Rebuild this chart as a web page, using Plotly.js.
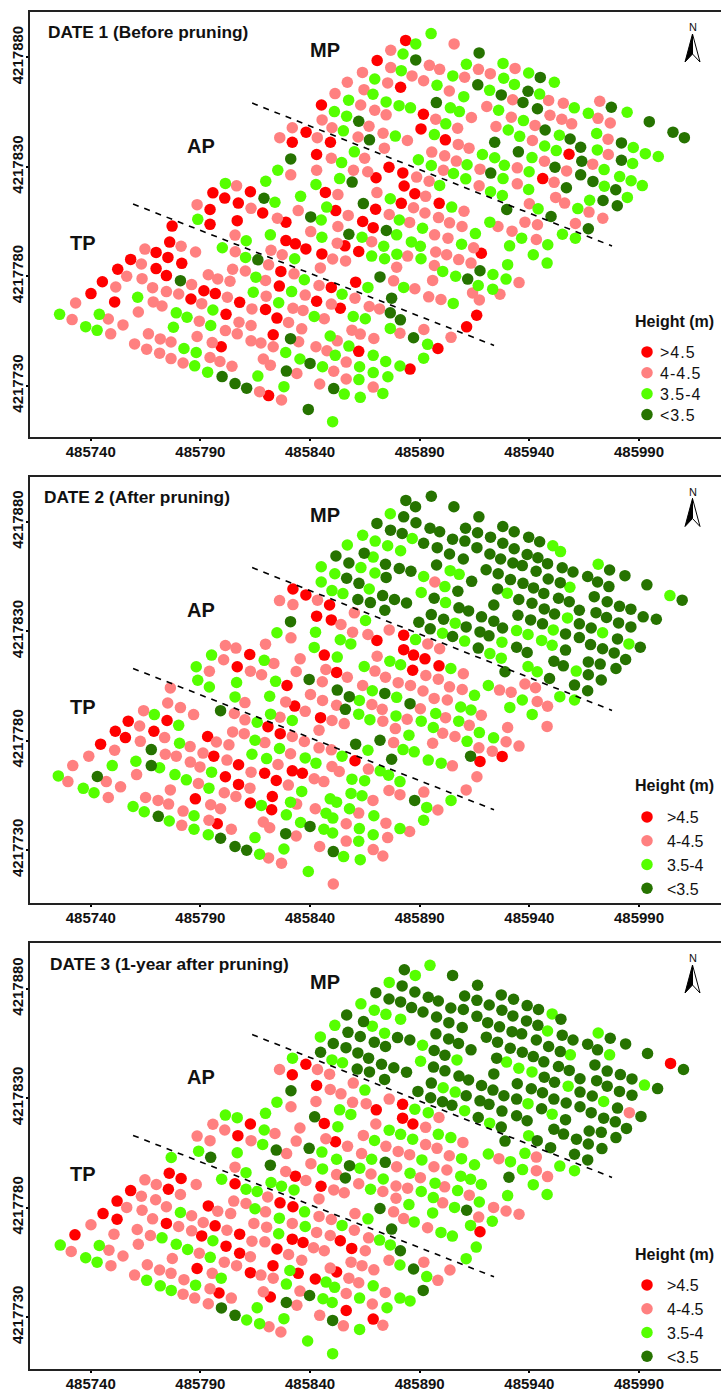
<!DOCTYPE html>
<html><head><meta charset="utf-8">
<script src="https://cdn.plot.ly/plotly-3.0.1.min.js"></script>
<style>html,body{margin:0;padding:0;background:#fff;overflow:hidden}#c{width:721px;height:1389px}</style>
</head><body><div id="c"></div>
<script>
// All tree positions: metres east of 485700 and metres north of 4217700 (UTM).
const eastBase = 485700, northBase = 4217700;
const classNames = [">4.5", "4-4.5", "3.5-4", "<3.5"];
const classColors = ["#FF0000", "#FF8080", "#55FF00", "#267300"];
const panelTitles = ["DATE 1 (Before pruning)", "DATE 2 (After pruning)", "DATE 3 (1-year after pruning)"];
const xTickValues = [485740, 485790, 485840, 485890, 485940, 485990];
const yTickValues = [4217730, 4217780, 4217830, 4217880];
const boundaryTPAP = [[59.3, 113.0], [223.9, 48.4]];
const boundaryAPMP = [[113.6, 159.1], [277.7, 93.8]];

const date1Red = [[95.7,118.1],[101.1,115.7],[112.8,118.6],[107.3,113.4],[94.4,110.5],[94.4,103.7],[106.8,105.4],[77.1,102.9],[76.0,95.6],[69.8,90.9],[75.2,88.6],[81.5,85.9],[58.2,87.7],[52.3,83.2],[69.8,83.5],[74.5,80.3],[45.3,77.5],[40.1,72.1],[50.9,68.3],[91.6,73.4],[96.8,72.1],[85.7,69.6],[107.9,68.1],[101.7,62.6],[99.5,47.8],
[118.4,108.9],[151.7,110.0],[147.0,118.3],[169.9,110.6],[181.6,113.3],[187.8,117.7],[198.9,113.3],[164.0,105.0],[168.8,102.2],[129.0,104.7],[129.0,96.3],[133.3,94.8],[138.1,92.5],[155.9,93.9],[162.2,91.3],[145.4,90.2],[218.1,90.5],[126.7,82.2],[126.0,75.5],[160.8,77.3],[149.7,74.9],[143.0,68.6],[153.8,65.4],[119.7,64.8],[124.9,60.9],[123.2,53.3],[162.2,45.7],[198.3,47.0],[216.0,62.2],[211.4,56.9],[185.6,37.6],[121.1,25.5],
[183.6,187.7],[170.6,178.5],[181.3,166.3],[145.2,158.2],[191.7,154.0],[190.6,147.3],[201.7,142.3],[138.2,145.8],[131.9,141.2],[149.3,141.2],[143.0,135.6],[176.0,129.8],[182.3,127.2],[170.1,125.0],[182.9,121.2],[258.1,135.7],[246.1,124.6]];
const date1Pink = [[106.5,121.3],[88.5,112.7],[113.1,111.0],[105.8,98.8],[105.9,91.2],[64.7,92.4],[81.2,93.7],[87.8,91.1],[63.1,85.6],[104.7,83.2],[110.5,82.4],[56.4,80.0],[63.4,78.9],[93.6,80.7],[97.9,78.8],[103.5,77.7],[51.4,75.1],[68.2,74.8],[86.0,76.2],[74.5,73.0],[80.1,71.9],[102.3,70.4],[68.5,68.3],[72.5,66.4],[90.6,67.5],[113.5,65.1],[33.1,67.8],[31.5,60.2],[61.7,63.7],[48.0,60.5],[54.7,57.8],[49.1,53.7],[89.5,59.5],[107.6,59.0],[113.1,57.5],[88.5,52.5],[101.4,55.2],[106.8,53.7],[113.1,50.5],[66.3,53.7],[71.7,51.4],[76.6,50.0],[60.0,49.1],[65.5,46.7],[71.4,44.9],[76.6,42.4],[82.1,40.4],[95.4,49.7],[94.4,42.9],[98.9,41.1],[104.4,38.9],
[152.7,117.3],[170.5,118.2],[192.7,116.5],[187.2,111.3],[134.6,110.0],[157.4,107.8],[176.1,108.2],[192.4,108.9],[198.6,106.8],[210.2,109.7],[203.6,104.4],[125.1,106.5],[185.4,104.6],[152.7,102.7],[140.3,100.4],[196.8,98.9],[202.9,97.4],[209.3,102.7],[225.7,102.7],[168.1,95.8],[152.4,95.1],[214.6,93.0],[197.3,91.1],[202.3,89.8],[207.8,87.6],[213.4,86.0],[122.2,91.9],[127.3,89.8],[184.5,89.2],[150.3,87.9],[156.2,87.0],[196.7,84.9],[144.7,83.8],[121.1,85.2],[132.7,81.1],[119.7,78.1],[179.5,84.1],[178.1,77.9],[195.9,78.1],[144.1,75.8],[187.8,74.3],[120.0,70.9],[137.8,71.4],[214.1,72.4],[217.2,69.2],[194.1,70.6],[199.7,69.4],[160.5,70.0],[149.7,67.3],[167.0,66.2],[171.7,65.1],[132.2,65.4],[136.8,64.4],[146.5,60.6],[130.2,58.9],[136.2,56.0],[159.1,55.4],[162.9,53.6],[169.1,51.6],[181.0,54.0],[191.9,55.7],[204.3,52.1],[117.6,49.5],[123.2,47.8],[134.8,50.1],[152.4,50.5],[142.7,47.8],[147.7,46.0],[118.7,42.2],[121.9,39.4],[156.5,40.8],[150.8,36.6],[134.0,35.6],[156.5,33.1],[144.4,30.8],[168.8,29.4],[117.0,27.3],[127.0,23.5],[226.6,71.8],
[176.8,183.2],[205.7,186.1],[176.8,175.3],[194.4,176.3],[199.1,174.5],[163.9,173.1],[186.5,171.5],[191.8,169.3],[175.4,168.3],[210.5,170.9],[216.8,174.5],[222.2,172.5],[157.0,168.6],[164.6,165.2],[203.5,164.6],[151.4,163.4],[163.1,158.2],[169.5,155.8],[174.7,153.7],[220.6,157.5],[197.3,151.7],[213.6,152.5],[145.5,151.4],[131.9,147.8],[150.0,147.8],[207.3,147.6],[224.8,148.4],[166.9,148.5],[126.2,143.3],[143.3,143.3],[161.9,143.6],[173.3,145.3],[184.4,142.0],[207.6,140.2],[212.5,138.5],[173.9,138.5],[195.5,136.7],[201.4,135.0],[206.7,132.6],[149.7,133.9],[164.9,133.9],[217.5,128.9],[143.0,128.4],[131.2,126.3],[159.8,128.4],[166.3,127.7],[200.8,128.4],[188.6,125.3],[194.3,123.4],[217.1,121.3],
[233.5,174.9],[232.4,160.6],[248.8,160.3],[255.5,159.0],[272.1,159.9],[231.8,152.6],[249.4,153.5],[254.8,151.7],[271.3,152.1],[259.3,149.6],[276.9,150.0],[242.6,148.9],[241.4,142.0],[275.9,142.6],[276.0,135.6],[246.9,132.5],[268.9,131.2],[234.5,129.5],[257.0,128.1],[251.3,122.9],[234.5,122.2],[252.0,116.0],[256.1,113.4],[240.0,113.1],[267.2,109.3],[273.5,106.5],[261.0,104.1],[238.0,104.7],[243.7,103.5],[232.1,100.6],[243.2,96.8],[235.3,77.1]];
const date1Green = [[101.4,122.4],[88.8,106.0],[110.9,96.2],[100.0,93.0],[110.6,88.6],[61.4,70.4],[25.8,62.6],[43.9,62.6],[37.7,57.0],[42.9,55.3],[79.0,63.3],[83.9,61.3],[95.7,64.6],[77.7,56.7],[94.7,57.5],[82.5,47.0],[88.1,45.2],[87.4,39.1],[93.3,36.2],
[135.7,116.5],[124.0,113.8],[147.6,111.6],[145.1,105.7],[176.6,115.4],[204.6,111.6],[180.7,105.7],[222.0,104.7],[191.3,101.9],[179.5,98.9],[215.4,99.5],[121.9,98.9],[145.4,97.8],[163.7,97.8],[209.1,94.6],[186.2,95.7],[190.3,93.7],[173.6,93.7],[179.6,90.1],[168.1,89.2],[174.0,88.0],[190.6,88.0],[133.0,88.0],[200.5,82.2],[206.4,80.0],[223.4,80.8],[216.7,75.8],[223.3,74.1],[115.3,79.6],[137.4,78.4],[166.4,74.9],[182.7,74.9],[114.1,72.7],[131.6,73.0],[154.6,71.8],[125.7,67.9],[205.3,67.6],[159.7,61.6],[165.2,60.6],[141.9,61.6],[176.6,56.2],[149.2,52.7],[157.7,48.1],[193.6,48.9],[128.9,45.2],[151.5,43.9],[135.4,42.2],[168.8,43.9],[174.5,41.1],[181.0,39.0],[191.8,42.6],[145.7,38.7],[162.6,38.7],[168.8,36.0],[175.5,34.1],[116.2,34.4],[162.3,32.8],[128.1,29.6],[155.6,26.2],[162.9,24.7],[173.2,26.5],[150.3,13.6],[222.3,118.6],
[195.2,190.8],[188.2,186.1],[182.4,181.5],[211.3,176.8],[181.6,173.9],[169.5,170.1],[205.1,171.5],[197.9,167.2],[221.9,164.9],[168.7,163.1],[210.1,162.0],[157.6,160.4],[174.7,159.6],[180.6,157.9],[185.8,156.9],[204.0,156.9],[208.1,155.2],[151.1,155.2],[156.7,153.1],[201.9,149.6],[226.0,155.8],[155.2,146.4],[196.7,144.7],[178.9,144.0],[218.6,135.6],[224.2,134.1],[160.2,136.8],[189.4,133.2],[195.3,130.6],[154.4,131.9],[125.3,128.4],[211.6,130.9],[205.4,126.9],[211.0,124.5],[153.5,124.6],[119.8,123.4],[142.7,121.9],[199.1,121.5],
[228.0,177.2],[239.7,172.8],[228.3,170.4],[233.2,167.6],[251.4,168.6],[244.7,163.2],[260.5,156.9],[266.9,154.4],[284.6,154.9],[237.3,151.1],[230.4,146.8],[235.6,143.9],[253.7,144.4],[270.7,145.2],[247.0,139.5],[252.3,137.4],[271.0,137.7],[287.4,138.8],[292.9,136.0],[298.8,134.7],[241.2,134.2],[228.6,130.7],[287.1,131.5],[239.9,127.7],[228.0,124.6],[274.1,128.7],[281.2,125.5],[286.4,123.6],[291.5,121.4],[274.2,121.1],[239.7,119.6],[227.7,116.9],[267.5,114.7],[284.7,116.0],[262.1,110.9],[244.0,110.8],[255.1,99.2],[261.0,97.4],[236.5,97.4],[248.4,94.4],[231.0,93.9],[241.8,89.8],[248.1,86.0],[230.1,85.3],[229.4,78.7]];
const date1Dark = [[80.9,78.0],[99.9,34.2],[105.8,31.0],[111.1,28.9],
[119.0,115.6],[164.3,113.2],[140.3,107.1],[157.7,99.2],[174.8,100.9],[116.2,87.5],[171.9,79.7],[177.2,70.0],[176.6,63.3],[181.2,60.1],[187.2,51.9],[131.1,51.5],[140.0,40.2],[129.2,36.7],[150.8,28.7],[139.2,19.2],[211.9,78.7],[217.5,82.5],
[217.1,182.0],[188.2,178.8],[216.5,167.4],[197.6,159.3],[162.2,150.8],[167.1,142.3],[224.2,141.2],[131.2,133.6],[222.4,127.1],[159.2,123.0],
[227.2,162.8],[239.4,164.5],[245.0,170.8],[237.1,159.4],[243.7,156.5],[277.4,157.2],[294.7,150.6],[247.2,146.8],[305.5,145.8],[310.7,143.3],[258.6,142.7],[282.0,140.9],[263.4,138.9],[235.0,136.8],[263.9,132.5],[282.0,133.0],[251.7,129.8],[263.4,126.3],[269.0,123.3],[256.9,120.4],[279.4,119.5],[273.6,114.6],[280.1,112.2],[229.7,110.5],[249.9,107.3],[266.9,101.7]];

const date2Red = [[112.5,119.4],[106.8,113.8],[57.1,88.9],[74.8,89.2],[51.2,84.3],[55.8,81.4],[68.8,84.3],[44.5,78.4],[93.3,81.9],[96.1,72.9],[107.4,69.0],[101.4,63.5],[107.4,60.0],[87.7,53.4],[112.8,51.5],[97.7,42.0],
[133.0,95.8],[144.8,90.5],[120.8,86.4],[126.4,83.2],[160.5,70.8],[217.5,70.5],[119.3,65.1],[124.6,61.8],[131.9,66.2],[136.5,65.1],[122.8,54.5],[122.5,48.4],[227.6,72.8],
[132.2,149.3],[138.1,146.6],[148.9,142.0],[143.0,136.9],[149.7,135.2],[170.5,125.8],[182.7,128.2],[182.7,121.6],[187.2,119.1],[192.4,117.4],[198.8,114.2],[186.8,112.2],[146.5,119.1],[152.1,111.2],[129.5,105.2]];
const date2Pink = [[101.4,123.5],[106.2,122.3],[100.6,117.0],[94.1,111.7],[112.8,111.7],[76.3,104.1],[110.3,97.4],[75.1,97.2],[80.9,95.1],[86.9,91.9],[64.1,93.7],[105.5,92.4],[110.3,89.5],[62.3,86.7],[104.7,84.0],[110.0,83.2],[73.7,81.4],[62.6,79.7],[97.3,79.4],[103.0,78.1],[50.9,75.6],[85.3,77.3],[39.1,72.9],[74.0,73.8],[79.0,72.9],[91.2,74.3],[102.1,71.1],[31.8,68.6],[85.4,70.2],[89.8,68.0],[113.1,65.6],[60.9,64.5],[29.6,61.3],[47.1,61.3],[89.1,60.4],[53.6,58.9],[112.6,58.3],[76.3,57.5],[100.9,56.2],[106.2,54.5],[48.0,54.0],[65.0,54.0],[70.7,52.7],[75.5,51.0],[94.7,50.7],[99.2,48.9],[82.1,47.8],[93.9,43.6],[104.1,39.5],[81.5,41.3],
[119.7,124.1],[117.9,110.1],[128.9,97.7],[152.1,96.2],[137.8,93.4],[126.3,90.7],[150.0,89.2],[155.6,87.8],[168.2,96.5],[172.9,94.3],[190.3,94.6],[202.6,98.6],[184.3,89.8],[173.2,88.9],[178.9,85.5],[201.8,90.5],[218.1,91.6],[212.6,87.0],[144.1,84.8],[131.9,81.9],[200.5,83.4],[206.1,81.9],[137.4,79.6],[119.4,79.1],[178.1,79.1],[195.9,78.8],[144.1,76.7],[149.7,75.8],[217.0,76.7],[223.1,75.2],[131.1,74.0],[204.9,68.5],[125.4,69.1],[150.0,68.2],[153.3,65.9],[166.6,67.0],[141.9,62.6],[146.3,61.3],[130.1,59.7],[216.1,63.5],[211.2,57.5],[176.0,57.2],[181.0,55.3],[191.9,56.5],[168.7,52.7],[133.9,51.0],[142.4,48.9],[198.3,48.3],[162.2,46.9],[118.7,42.8],[121.6,40.2],[156.5,42.0],[174.6,42.3],[133.7,36.4],[185.4,38.5],[175.4,35.7],[156.5,34.1],[144.4,31.6],[168.8,30.2],[173.2,27.3],[121.1,26.4],[127.0,24.0],[150.6,14.5],[145.7,98.4],
[196.9,152.5],[126.1,144.0],[132.2,142.2],[143.4,144.2],[160.2,138.4],[154.1,133.1],[159.4,129.6],[176.1,130.6],[166.4,128.5],[131.3,127.0],[193.7,124.2],[199.1,122.0],[170.6,118.6],[123.5,115.3],[135.5,117.4],[133.7,111.6],[147.2,112.5],[157.0,109.0],[169.6,111.8],[174.4,109.0],[192.8,109.8],[198.5,108.1],[180.2,106.5],[145.6,106.9],[164.0,105.2],[185.8,105.2],[203.6,104.6],[209.9,110.6],[140.2,101.1],[209.4,103.4],[191.5,102.7],[226.4,103.1],[231.7,102.1],[238.0,105.9],[242.8,104.2],[243.6,97.9],[248.3,95.7],[196.6,99.3],
[229.4,79.5],[235.3,77.5],[230.1,86.0],[248.1,86.5]];
const date2Green = [[95.1,119.1],[88.1,113.8],[88.8,107.6],[94.1,104.5],[106.5,106.6],[105.8,100.0],[69.0,91.9],[80.1,87.0],[80.5,78.8],[60.6,70.6],[49.8,68.6],[71.4,67.6],[25.2,63.9],[78.4,64.5],[83.6,62.1],[95.1,65.6],[93.9,58.3],[36.6,58.2],[41.5,56.2],[59.3,49.9],[64.4,47.5],[87.1,45.7],[75.8,43.3],[87.1,39.5],[93.6,37.0],[113.5,73.8],
[119.1,116.7],[121.6,100.3],[122.0,92.1],[115.9,88.4],[131.9,89.2],[162.2,92.1],[167.3,89.6],[179.2,91.3],[190.7,88.9],[197.3,92.4],[208.7,95.4],[213.4,94.0],[207.8,88.9],[196.2,86.0],[217.2,83.7],[185.1,82.5],[223.7,81.3],[114.9,80.2],[211.6,79.7],[166.4,75.6],[126.1,76.4],[182.4,75.9],[187.5,74.9],[154.6,72.9],[120.2,71.8],[137.8,72.1],[142.7,69.7],[193.9,71.1],[199.8,69.7],[172.0,66.2],[175.8,64.2],[159.1,62.4],[164.9,61.7],[181.0,61.3],[136.2,56.8],[158.7,55.9],[163.7,54.8],[149.2,53.4],[152.1,51.9],[117.8,50.4],[131.1,51.9],[204.3,52.7],[193.2,49.5],[158.0,48.9],[147.3,46.8],[150.4,44.6],[129.2,46.1],[169.1,45.7],[191.8,43.6],[135.7,42.6],[146.3,39.5],[150.3,37.8],[162.5,39.8],[181.0,39.8],[168.8,37.0],[114.9,35.7],[128.1,30.5],[162.2,34.0],[117.0,28.1],[155.3,27.0],[162.9,25.6],[139.2,20.2],[162.5,98.4],
[176.6,183.7],[164.0,173.9],[186.6,172.4],[169.7,171.2],[157.0,169.4],[175.4,169.1],[181.3,166.8],[250.7,169.1],[254.2,166.4],[168.8,163.9],[145.1,159.5],[163.2,159.1],[151.3,156.3],[169.6,156.6],[271.4,160.6],[203.9,157.7],[208.0,156.0],[191.8,155.0],[145.1,152.5],[167.0,149.3],[150.0,148.6],[258.5,150.1],[155.0,147.2],[201.5,150.4],[190.7,147.7],[229.9,147.4],[201.8,143.1],[257.4,136.1],[165.3,134.9],[206.2,133.7],[234.2,130.3],[239.4,128.5],[250.9,130.6],[142.5,129.6],[153.8,126.1],[158.6,124.2],[273.4,129.3],[200.4,129.1],[124.9,129.3],[188.1,126.2],[210.5,125.5],[227.5,125.0],[245.6,125.8],[250.4,123.6],[285.4,124.2],[141.9,122.6],[222.0,119.8],[227.2,117.7],[152.4,118.2],[176.4,116.3],[181.3,114.7],[164.7,113.9],[204.2,113.0],[239.4,113.9],[243.6,111.5],[261.4,111.8],[124.3,107.1],[221.3,105.2],[168.4,102.8],[179.5,99.8],[253.9,100.1],[260.6,98.6],[215.0,100.7],[304.1,146.3],[231.1,95.2],[236.8,98.6],[241.3,92.0]];
const date2Dark = [[99.2,93.7],[67.6,75.9],[67.6,68.6],[43.0,63.6],[70.8,45.4],[99.2,35.4],[105.8,31.6],[111.1,29.9],
[160.8,78.4],[171.9,80.2],[177.2,71.5],[156.1,94.3],[213.2,72.9],[187.7,52.7],[140.0,40.8],[128.9,37.5],[150.6,29.3],[185.6,96.9],
[195.3,191.7],[183.7,189.8],[188.1,186.9],[205.6,186.9],[182.7,182.3],[217.0,182.3],[170.5,179.3],[188.3,179.6],[227.9,177.9],[194.7,177.1],[199.1,175.5],[210.9,177.1],[233.1,175.5],[176.7,176.2],[182.0,174.7],[216.4,175.0],[222.3,173.0],[239.7,173.0],[191.8,170.2],[244.7,170.9],[205.0,172.1],[210.6,171.2],[227.9,170.2],[198.0,168.2],[216.1,168.2],[233.1,167.7],[164.7,165.7],[151.8,164.4],[203.6,165.3],[222.0,165.3],[239.0,165.1],[243.9,163.6],[209.9,163.0],[226.9,163.0],[157.7,161.2],[232.5,161.2],[236.8,160.0],[248.3,160.9],[174.4,160.6],[180.7,158.7],[186.0,157.4],[197.7,160.3],[255.0,159.0],[259.9,157.1],[220.3,158.1],[266.6,155.0],[276.6,158.0],[283.6,155.4],[243.1,157.4],[225.8,156.3],[174.7,154.6],[156.7,154.2],[231.4,153.6],[248.6,153.9],[254.1,152.2],[271.1,152.5],[213.7,152.8],[162.3,151.9],[237.1,151.9],[276.3,150.4],[293.6,151.2],[241.9,149.8],[225.5,149.3],[207.4,148.3],[246.6,147.3],[269.6,145.8],[173.1,146.3],[178.5,144.5],[161.8,144.5],[167.5,143.1],[184.0,142.9],[196.6,145.1],[235.2,144.5],[253.3,145.1],[258.2,143.5],[275.5,143.5],[241.2,142.8],[281.1,141.4],[223.8,142.0],[246.8,140.2],[286.3,140.1],[309.7,144.2],[207.9,140.7],[212.3,139.3],[262.8,139.6],[270.4,138.5],[174.1,139.6],[251.5,137.9],[234.8,137.3],[195.3,137.6],[275.2,136.3],[291.9,136.6],[297.9,135.5],[218.2,136.6],[200.9,135.5],[240.6,135.2],[189.6,134.1],[223.8,134.6],[262.8,133.4],[280.7,133.8],[246.0,133.4],[211.2,132.0],[268.2,131.5],[286.3,132.0],[227.8,131.5],[194.8,131.1],[217.5,129.7],[256.5,128.8],[221.6,127.9],[205.0,127.6],[262.8,127.1],[280.2,126.5],[131.1,134.4],[267.9,123.9],[290.6,122.7],[273.4,122.0],[234.2,122.7],[216.7,122.3],[256.5,121.4],[239.0,120.3],[278.7,120.1],[283.9,117.1],[266.9,116.0],[251.2,116.3],[255.5,114.2],[272.3,115.0],[279.5,113.0],[228.9,111.5],[266.9,110.1],[272.8,107.7],[249.2,108.4],[260.6,105.4],[266.6,102.8],[139.6,108.0],[152.4,103.1],[174.1,101.6],[157.9,100.1]];

const date3Red = [[112.8,118.2],[107.1,112.9],[75.8,95.7],[81.2,93.3],[58.2,87.8],[75.4,88.4],[52.0,83.0],[45.6,77.3],[52.0,74.7],[93.6,80.8],[74.5,72.8],[32.8,67.6],[96.7,71.7],[90.6,67.1],[107.9,67.9],[101.7,62.4],[107.9,59.2],[88.5,52.2],[112.8,50.3],[98.5,41.0],[105.8,90.9],
[133.3,94.4],[145.0,89.8],[126.3,82.2],[132.2,80.4],[217.5,69.0],[131.9,65.6],[136.8,64.1],[153.8,64.9],[159.0,61.4],[124.9,61.1],[123.1,53.5],[134.6,50.0],[152.1,50.6],[142.4,47.4],[121.9,39.2],[156.5,33.0],[168.8,29.1],
[138.1,145.5],[131.9,140.7],[143.0,135.8],[170.2,124.7],[182.2,127.2],[182.2,120.9],[186.9,118.2],[146.5,118.5],[151.6,110.1],[304.4,145.9]];
const date3Pink = [[95.7,118.1],[101.1,115.5],[88.5,112.7],[94.4,110.6],[113.1,110.6],[105.8,98.5],[64.7,92.7],[69.9,90.6],[88.1,90.6],[63.1,85.2],[80.9,86.0],[69.6,83.6],[105.2,83.0],[110.8,81.9],[56.4,80.1],[63.4,78.8],[74.5,80.4],[97.9,78.4],[103.8,77.3],[86.0,76.3],[68.2,74.9],[40.1,72.2],[91.3,73.2],[80.1,71.4],[61.2,70.0],[102.1,69.7],[50.6,67.9],[86.0,69.4],[67.2,67.3],[61.7,63.3],[113.5,64.7],[48.3,60.6],[31.1,60.0],[54.7,57.9],[89.5,59.2],[112.8,57.6],[77.2,56.8],[100.9,55.1],[106.5,53.5],[49.2,53.5],[65.8,53.9],[71.4,51.5],[76.6,50.0],[95.4,50.0],[60.0,49.2],[82.5,47.1],[94.4,43.0],[104.1,38.7],[82.1,40.5],[87.4,38.7],[93.6,36.1],
[128.9,96.5],[152.1,95.1],[138.1,92.4],[162.2,90.9],[167.8,95.4],[150.8,88.1],[155.6,86.8],[173.2,87.4],[184.5,88.9],[179.2,89.9],[190.3,93.7],[202.4,97.2],[201.4,89.5],[212.6,85.7],[144.1,84.0],[179.2,84.3],[120.7,84.9],[200.5,82.2],[178.1,78.1],[223.7,80.1],[160.5,77.3],[144.1,76.0],[149.7,74.6],[119.7,78.1],[216.9,75.7],[182.7,75.0],[131.9,72.8],[193.6,70.8],[160.2,69.7],[114.4,72.8],[120.2,71.1],[143.0,68.7],[149.2,67.3],[166.7,66.2],[119.4,64.4],[141.6,61.7],[146.5,60.3],[165.2,60.3],[130.2,58.6],[136.2,56.0],[176.0,56.0],[191.9,55.1],[203.8,51.5],[158.7,55.1],[163.7,53.5],[169.1,51.6],[117.6,49.2],[123.2,47.8],[149.2,52.4],[157.7,47.8],[162.2,45.7],[198.3,46.8],[118.7,41.6],[135.4,41.9],[156.5,40.8],[174.3,41.3],[134.0,35.4],[168.4,36.0],[144.4,30.8],[121.3,25.6],[126.7,23.2],[155.2,26.0],[173.2,26.3],
[126.1,143.1],[143.4,143.1],[148.9,141.0],[159.7,136.9],[149.2,134.0],[154.1,132.0],[142.7,128.5],[159.4,128.1],[176.1,129.6],[165.6,127.5],[131.3,126.1],[198.8,121.2],[135.4,116.4],[192.7,116.7],[170.0,118.2],[124.0,113.9],[147.2,111.5],[133.7,110.4],[164.3,113.0],[157.1,108.0],[174.6,108.0],[192.7,108.8],[197.9,107.1],[180.2,105.7],[163.5,104.7],[185.4,104.2],[209.7,109.8],[203.5,103.7],[129.3,104.7],[140.4,100.1],[179.5,98.7],[196.5,98.7],[226.1,102.4],[243.2,103.1],[243.2,96.9],[248.3,94.2],[285.6,123.4],
[235.3,77.0],[229.4,78.5]];
const date3Green = [[101.4,122.3],[106.8,121.1],[89.2,105.8],[106.8,105.1],[110.8,96.0],[76.7,102.9],[99.7,93.0],[110.8,88.4],[80.9,77.8],[72.5,66.2],[26.1,62.9],[43.9,62.7],[79.0,63.3],[95.7,64.9],[84.2,60.9],[37.7,57.1],[42.9,55.1],[94.5,57.3],[99.5,47.8],[65.5,46.8],[87.8,44.6],[71.7,44.3],[76.7,42.2],[111.1,28.7],
[119.7,123.1],[119.1,115.5],[118.4,108.9],[127.0,89.8],[122.2,91.5],[132.7,88.1],[115.9,87.4],[167.6,88.4],[173.4,93.1],[185.6,95.7],[197.0,91.2],[208.7,94.4],[213.2,93.0],[218.1,90.6],[190.7,87.4],[207.3,87.8],[196.2,84.6],[185.1,81.4],[114.9,79.5],[217.2,82.6],[205.9,80.1],[195.9,77.6],[223.1,73.8],[166.4,74.9],[187.5,73.5],[137.5,78.1],[154.6,71.9],[126.0,75.2],[137.8,71.4],[213.2,71.9],[199.7,68.7],[204.9,67.0],[125.7,68.1],[171.7,65.2],[176.6,63.0],[215.8,62.0],[211.2,56.7],[181.0,53.8],[130.8,51.3],[193.2,48.5],[147.3,46.0],[151.2,43.6],[129.2,45.1],[168.8,44.3],[145.9,38.4],[150.1,36.7],[162.6,38.7],[181.0,38.7],[185.6,37.4],[175.1,34.3],[115.9,34.3],[128.1,29.3],[162.6,24.4],[117.0,27.0],[138.9,19.1],[150.3,13.3],
[194.7,190.7],[188.0,186.1],[176.1,182.9],[163.2,173.1],[169.3,170.2],[174.6,168.3],[181.3,166.1],[250.4,168.5],[151.3,163.3],[168.4,162.9],[174.0,159.7],[248.3,160.7],[144.7,158.0],[271.4,159.8],[191.3,154.2],[276.6,149.8],[258.7,149.8],[207.0,147.5],[150.0,147.5],[154.8,146.2],[190.4,146.9],[229.6,146.5],[235.2,143.7],[241.2,142.0],[132.0,148.3],[257.7,135.5],[292.5,136.0],[200.7,134.8],[206.2,132.8],[165.0,133.7],[273.9,128.5],[239.4,127.5],[124.9,128.2],[187.8,125.0],[193.9,123.4],[153.5,124.7],[158.6,122.6],[210.5,124.3],[250.4,122.7],[221.9,118.6],[152.7,117.0],[176.1,115.4],[181.3,113.5],[198.5,113.5],[186.8,111.3],[169.4,110.7],[204.2,112.0],[239.7,112.9],[145.4,105.4],[221.3,104.5],[238.0,104.8],[152.1,102.1],[191.0,101.8],[209.1,102.4],[168.1,102.1],[231.4,101.0],[215.0,99.6],[253.9,99.0],[260.6,96.9],[162.7,98.0],[145.7,97.7],[236.9,97.4],[241.8,90.5],
[230.1,85.5],[248.1,86.0]];
const date3Dark = [[94.7,103.0],[99.6,34.2],[105.8,30.8],
[121.9,99.4],[156.1,93.6],[171.9,79.6],[177.2,70.2],[181.2,60.3],[187.2,52.0],[211.4,78.8],[139.8,39.9],[129.2,36.7],[150.3,28.5],[191.6,42.2],
[183.0,188.7],[205.0,186.1],[216.4,181.6],[182.0,181.3],[170.0,178.2],[187.8,178.5],[227.2,177.2],[210.5,176.7],[232.8,175.2],[193.9,176.1],[198.5,174.4],[176.0,175.3],[181.3,174.0],[216.1,174.7],[221.7,172.6],[239.0,172.3],[186.3,171.4],[191.5,169.4],[244.2,170.5],[204.2,171.2],[209.9,170.5],[227.5,170.2],[197.7,167.1],[216.1,167.4],[232.5,167.6],[254.4,166.1],[156.7,168.0],[164.4,165.0],[221.0,164.5],[203.3,164.5],[238.7,165.3],[243.9,163.3],[209.4,162.3],[226.4,162.6],[157.3,160.1],[232.1,160.4],[236.5,159.4],[197.4,159.4],[162.9,158.2],[179.9,157.7],[185.5,156.6],[203.2,157.1],[255.0,158.8],[259.9,156.6],[220.4,157.9],[276.9,157.4],[283.9,154.8],[266.6,154.7],[243.2,156.6],[169.3,155.6],[150.6,155.0],[207.7,155.0],[225.5,155.6],[174.4,153.6],[156.4,153.1],[248.8,153.6],[271.1,152.1],[254.1,151.3],[231.3,152.8],[213.4,152.1],[196.6,151.8],[161.8,150.7],[144.8,151.0],[236.8,151.0],[201.5,149.6],[293.9,150.4],[166.7,148.3],[241.8,149.0],[225.1,148.3],[246.6,146.6],[269.9,145.2],[172.6,145.5],[253.3,144.5],[161.5,143.3],[167.1,142.0],[178.2,143.9],[184.0,141.9],[196.3,144.2],[201.5,142.5],[275.5,142.4],[258.2,142.7],[310.3,143.1],[281.5,140.8],[223.8,141.1],[246.8,139.6],[174.0,138.6],[286.8,138.8],[207.9,140.1],[263.1,138.9],[212.3,138.3],[251.5,137.3],[234.5,136.6],[270.7,138.0],[195.3,136.9],[218.2,135.8],[275.5,135.5],[240.9,134.3],[298.5,134.4],[189.2,133.1],[223.4,133.7],[281.1,133.1],[211.2,131.1],[263.1,132.8],[246.0,132.5],[228.4,131.1],[268.7,131.0],[286.8,131.4],[195.0,130.2],[234.2,129.6],[251.2,129.6],[131.3,133.4],[200.4,128.4],[217.5,128.8],[221.6,127.2],[204.7,126.8],[256.8,127.8],[263.1,126.1],[280.2,125.5],[142.1,121.5],[227.5,124.1],[234.2,122.0],[245.6,125.2],[268.2,123.4],[290.9,121.7],[273.9,120.9],[216.7,121.2],[239.0,119.7],[256.5,120.2],[279.2,119.2],[227.2,116.8],[284.3,116.2],[251.2,115.8],[267.3,115.0],[272.8,114.4],[255.6,113.6],[279.5,112.0],[261.5,111.3],[228.9,110.4],[243.6,110.6],[266.9,109.1],[249.7,107.4],[273.1,107.0],[124.6,106.3],[139.6,107.1],[260.6,104.4],[266.6,101.8],[174.3,100.7],[158.0,99.2],[230.7,93.9]];

const panelData = [
  [date1Red, date1Pink, date1Green, date1Dark],
  [date2Red, date2Pink, date2Green, date2Dark],
  [date3Red, date3Pink, date3Green, date3Dark]
];

// Layout geometry of the three map frames, in page pixels
const W = 721, H = 1389;
const frames = [
  {top: 11.5, bottom: 437, yr: [4217706.6, 4217900.9], titleX: 46, titleY: 32, legendTitleY: 321, legendTop: 335, arrowTop: 34},
  {top: 477, bottom: 903, yr: [4217705.8, 4217900.5], titleX: 42, titleY: 497, legendTitleY: 785, legendTop: 800, arrowTop: 498.5},
  {top: 943, bottom: 1369, yr: [4217706.3, 4217900.9], titleX: 48, titleY: 964, legendTitleY: 1254, legendTop: 1268, arrowTop: 965}
];
const xRange = [485712.3, 486027.4];
const px = x => x / W, py = y => 1 - y / H;
const tickFont = {family: "Liberation Sans, Arial, sans-serif", size: 15, color: "#111", weight: 700};
const boldFamily = "Liberation Sans, Arial, sans-serif";

const traces = [], annotations = [], shapes = [];
const layout = {
  width: W, height: H, margin: {l: 0, r: 0, t: 0, b: 0}, paper_bgcolor: "#fff", plot_bgcolor: "#fff",
  hovermode: false, showlegend: true, annotations, shapes
};

frames.forEach((f, p) => {
  const sfx = p === 0 ? "" : String(p + 1);
  const xa = "x" + sfx, ya = "y" + sfx, lg = "legend" + sfx;
  layout["xaxis" + sfx] = {
    domain: [30 / W, 1], range: xRange, anchor: ya, tickmode: "array", tickvals: xTickValues,
    ticktext: xTickValues.map(String), ticks: "outside", ticklen: 2, tickwidth: 2, tickcolor: "#000",
    showgrid: false, zeroline: false, showline: true, linecolor: "#222", linewidth: 2, mirror: true,
    tickfont: tickFont, ticklabelstandoff: -2
  };
  layout["yaxis" + sfx] = {
    domain: [py(f.bottom), py(f.top)], range: f.yr, anchor: xa, tickmode: "array", tickvals: yTickValues,
    ticktext: yTickValues.map(String), ticks: "outside", ticklen: 2, tickwidth: 2, tickcolor: "#000",
    tickangle: -90, showgrid: false, zeroline: false, showline: true, linecolor: "#222", linewidth: 2,
    tickfont: tickFont, ticklabelstandoff: -3
  };
  layout[lg] = {
    x: 627 / W, y: py(f.legendTop), xanchor: "left", yanchor: "top", bgcolor: "rgba(0,0,0,0)",
    font: {family: boldFamily, size: 16, color: "#111"}, itemwidth: 30, itemclick: false, itemdoubleclick: false
  };
  panelData[p].forEach((pts, c) => {
    traces.push({
      type: "scatter", mode: "markers", xaxis: xa, yaxis: ya, legend: lg, name: classNames[c],
      x: pts.map(d => eastBase + d[0]), y: pts.map(d => northBase + d[1]),
      marker: {size: 11.5, color: classColors[c], line: {width: 0}}, cliponaxis: false
    });
  });
  [boundaryTPAP, boundaryAPMP].forEach(b => {
    traces.push({
      type: "scatter", mode: "lines", xaxis: xa, yaxis: ya, showlegend: false,
      x: b.map(d => eastBase + d[0]), y: b.map(d => northBase + d[1]),
      line: {color: "#000", width: 1.6, dash: "6px,6px"}
    });
  });
  // Text
  annotations.push({xref: "paper", yref: "paper", x: px(f.titleX), y: py(f.titleY), xanchor: "left", yanchor: "middle", showarrow: false,
    text: "<b>" + panelTitles[p] + "</b>", font: {family: boldFamily, size: 17.3, color: "#111"}});
  [["MP", 146.8, 183.3], ["AP", 90.2, 139.5], ["TP", 36.5, 95.2]].forEach(z => {
    annotations.push({xref: xa, yref: ya, x: eastBase + z[1], y: northBase + z[2], xanchor: "center", yanchor: "middle", showarrow: false,
      text: "<b>" + z[0] + "</b>", font: {family: boldFamily, size: 20, color: "#111"}});
  });
  annotations.push({xref: "paper", yref: "paper", x: px(674), y: py(f.legendTitleY), xanchor: "center", yanchor: "middle", showarrow: false,
    text: "<b>Height (m)</b>", font: {family: boldFamily, size: 16, color: "#111"}});
  annotations.push({xref: "paper", yref: "paper", x: px(692.5), y: py(f.arrowTop - 7), xanchor: "center", yanchor: "middle", showarrow: false,
    text: "N", font: {family: boldFamily, size: 11, color: "#111"}});
  // North arrow
  const t = f.arrowTop, pth = pts => "M" + pts.map(q => px(q[0]) + "," + py(q[1])).join("L") + "Z";
  shapes.push({type: "path", xref: "paper", yref: "paper", path: pth([[692.5, t], [685, t + 28], [692.5, t + 20]]), fillcolor: "#000", line: {color: "#000", width: 1}});
  shapes.push({type: "path", xref: "paper", yref: "paper", path: pth([[692.5, t], [700, t + 28], [692.5, t + 20]]), fillcolor: "#fff", line: {color: "#000", width: 1}});
});

Plotly.newPlot("c", traces, layout, {displayModeBar: false, staticPlot: true}).then(() => {
  // Tighten the legend rows and pull the labels closer to their keys, as in the original map.
  document.querySelectorAll(".legend").forEach(leg => {
    const rows = leg.querySelectorAll(".traces");
    let y0 = null;
    rows.forEach((row, i) => {
      const m = /translate\(([^,]+),\s*([^)]+)\)/.exec(row.getAttribute("transform") || "");
      if (!m) return;
      if (y0 === null) y0 = parseFloat(m[2]);
      row.setAttribute("transform", "translate(" + m[1] + "," + (y0 + i * 20.9) + ")");
      const txt = row.querySelector(".legendtext");
      if (txt) { txt.setAttribute("x", parseFloat(txt.getAttribute("x")) - 7); txt.style.letterSpacing = "1px"; }
    });
  });
});
</script></body></html>
